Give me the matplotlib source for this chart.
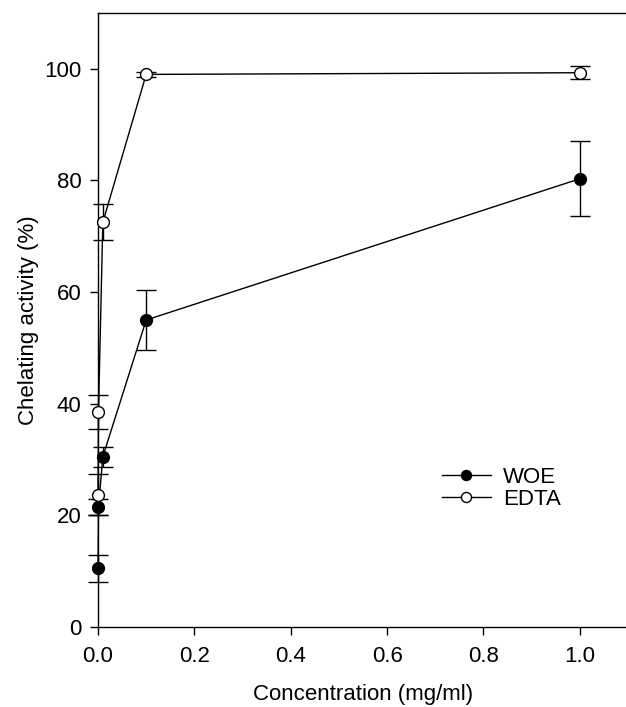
import matplotlib
matplotlib.use('Agg')
import matplotlib.pyplot as plt

plt.rcParams['font.family'] = ['Liberation Sans', 'DejaVu Sans']

# concentrations (mg/ml)
conc = [0.0001, 0.001, 0.01, 0.1, 1.0]

# chelating activity (%) and error
woe = [10.5, 21.5, 30.5, 55.0, 80.3]
woe_err = [2.4, 1.4, 1.8, 5.4, 6.7]
edta = [23.7, 38.5, 72.5, 99.0, 99.3]
edta_err = [3.7, 3.1, 3.2, 0.5, 1.2]

fig = plt.figure(figsize=(6.26, 7.07), dpi=100)
ax = fig.add_axes([98 / 626, 80 / 707, 530 / 626, 614 / 707])

for y, err, face, name in [(woe, woe_err, 'black', 'WOE'), (edta, edta_err, 'white', 'EDTA')]:
    eb = ax.errorbar(conc, y, yerr=err, color='black', lw=1.0, marker='o', ms=8.5,
                     mfc=face, mec='black', capsize=7, elinewidth=1.0, capthick=1.0,
                     label=name, zorder=3)
    # markers at x=0 sit on the spine, keep them whole
    for art in eb.get_children():
        art.set_clip_on(False)

ax.set_xlim(0, 1.1)
ax.set_ylim(0, 110)
ax.set_xticks([0.0, 0.2, 0.4, 0.6, 0.8, 1.0])
ax.set_xticklabels(['0.0', '0.2', '0.4', '0.6', '0.8', '1.0'])
ax.set_yticks([0, 20, 40, 60, 80, 100])
ax.tick_params(direction='out', length=6, width=1, labelsize=16, top=False, right=False)
ax.tick_params(axis='x', pad=8)
ax.tick_params(axis='y', pad=6)
ax.spines['right'].set_visible(False)
for s in ['left', 'bottom', 'top']:
    ax.spines[s].set_linewidth(1.0)

ax.set_xlabel('Concentration (mg/ml)', fontsize=16, labelpad=12)
ax.set_ylabel('Chelating activity (%)', fontsize=16, labelpad=4)

handles, labels = ax.get_legend_handles_labels()
handles = [h[0] for h in handles]
ax.legend(handles, labels, loc='center left', bbox_to_anchor=(0.628, 0.226),
          frameon=False, fontsize=16, handlelength=2.2, handletextpad=0.55,
          labelspacing=0.05, borderpad=0, markerscale=0.85)

fig.savefig('out.png', dpi=100)
